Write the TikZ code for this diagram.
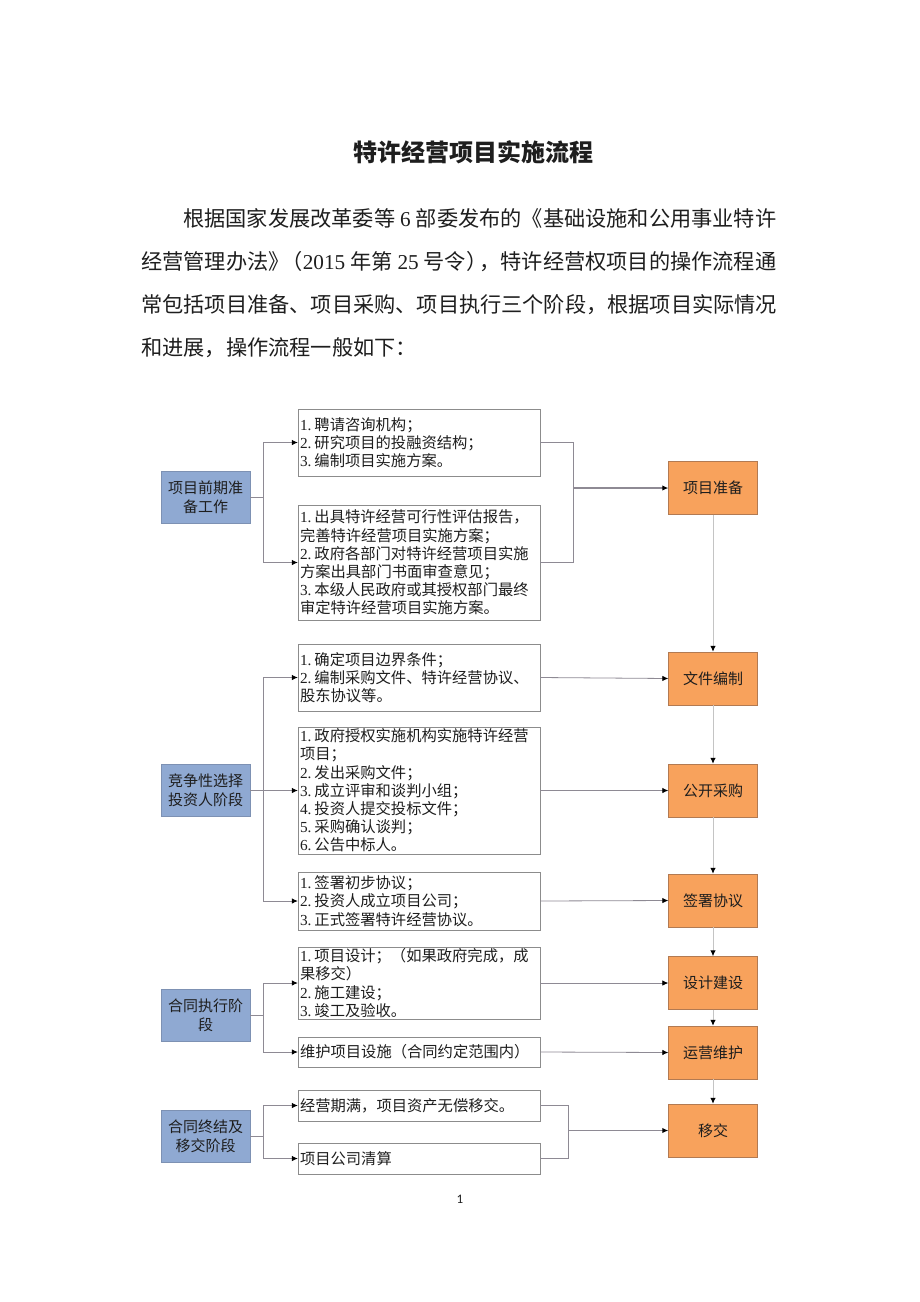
\documentclass[tikz,border=0pt]{standalone}
\usepackage{fontspec}
\setmainfont{Noto Sans CJK SC}
\newfontfamily\lat{Liberation Serif}
\newfontfamily\pnum{Carlito}
\usetikzlibrary{arrows.meta}
\definecolor{bluefill}{HTML}{8FA9D2}
\definecolor{bluedraw}{HTML}{7D91B3}
\definecolor{orangefill}{HTML}{F8A25C}
\definecolor{orangedraw}{HTML}{B27A52}
\definecolor{boxgray}{HTML}{8C8C8C}
\definecolor{linegray}{HTML}{8E8A94}
\definecolor{chaingray}{HTML}{C4C4C4}
\definecolor{ink}{HTML}{1E1E1E}
\newcommand\nm[1]{{\lat #1}\kern3pt}
\newcommand\dgap{\hspace{5pt}}
\newcommand\plinefill[2]{{\XeTeXlinebreaklocale "zh"\XeTeXlinebreakskip=0pt plus 2pt minus 0.5pt\makebox[#1][s]{#2}}}
\tikzset{
  phasebox/.style={draw=bluedraw, fill=bluefill, minimum width=89pt, minimum height=52pt,
    inner sep=0pt, align=center, text=ink, font=\fontsize{15}{18.6}\selectfont},
  resultbox/.style={draw=orangedraw, fill=orangefill, minimum width=89pt, minimum height=53pt,
    inner sep=0pt, align=center, text=ink, font=\fontsize{15}{18.6}\selectfont},
  stepitem/.style={draw=boxgray, fill=white, text width=238pt, inner xsep=2pt, inner ysep=0pt,
    align=left, text=ink, font=\fontsize{15.3}{18.2}\selectfont},
  paraline/.style={anchor=west, inner sep=0pt, text=ink, font=\fontsize{21.2}{25}\selectfont},
  conn/.style={draw=linegray, line width=0.8pt},
  arr/.style={conn, -{Latex[length=6pt,width=5.5pt,color=black]}},
  merge/.style={draw=linegray, line width=1.6pt},
  mergearr/.style={merge, -{Latex[length=6pt,width=5.5pt,color=black]}},
  chain/.style={draw=chaingray, line width=1pt, -{Latex[length=6pt,width=5.5pt,color=black]}},
}
\begin{document}
\begin{tikzpicture}[x=1pt, y=-1pt]
\useasboundingbox (0,0) rectangle (920,1302);
\fill[white] (0,0) rectangle (920,1302);

% title and paragraph
\node[inner sep=0pt, text=ink, font=\fontsize{24}{28}\selectfont\bfseries] (title) at (473,152) {特许经营项目实施流程};
\node[paraline] (p1) at (183,218) {\plinefill{596pt}{根据国家发展改革委等\dgap{\lat 6}\dgap 部委发布的《基础设施和公用事业特许}};
\node[paraline] (p2) at (141,262) {\plinefill{638pt}{经营管理办法》\kern-8pt（{\lat 2015}\dgap 年第\dgap{\lat 25}\dgap 号令）\kern-8pt，特许经营权项目的操作流程通}};
\node[paraline] (p3) at (141,305) {\plinefill{638pt}{常包括项目准备、项目采购、项目执行三个阶段，根据项目实际情况}};
\node[paraline] (p4) at (141,348) {和进展，操作流程一般如下：};

% phase boxes (left)
\node[phasebox] (b1) at (205.5,497) {项目前期准\\备工作};
\node[phasebox] (b2) at (205.5,790.5) {竞争性选择\\投资人阶段};
\node[phasebox] (b3) at (205.5,1015) {合同执行阶\\段};
\node[phasebox] (b4) at (205.5,1136) {合同终结及\\移交阶段};

% step boxes (middle)
\node[stepitem, minimum height=67pt] (m1) at (419,442.5) {\nm{1.}聘请咨询机构；\\\nm{2.}研究项目的投融资结构；\\\nm{3.}编制项目实施方案。};
\node[stepitem, minimum height=115pt] (m2) at (419,562.5) {\nm{1.}出具特许经营可行性评估报告，\\完善特许经营项目实施方案；\\\nm{2.}政府各部门对特许经营项目实施\\方案出具部门书面审查意见；\\\nm{3.}本级人民政府或其授权部门最终\\审定特许经营项目实施方案。};
\node[stepitem, minimum height=67pt] (m3) at (419,677.5) {\nm{1.}确定项目边界条件；\\\nm{2.}编制采购文件、特许经营协议、\\股东协议等。};
\node[stepitem, minimum height=127pt] (m4) at (419,790.5) {\nm{1.}政府授权实施机构实施特许经营\\项目；\\\nm{2.}发出采购文件；\\\nm{3.}成立评审和谈判小组；\\\nm{4.}投资人提交投标文件；\\\nm{5.}采购确认谈判；\\\nm{6.}公告中标人。};
\node[stepitem, minimum height=58pt] (m5) at (419,901) {\nm{1.}签署初步协议；\\\nm{2.}投资人成立项目公司；\\\nm{3.}正式签署特许经营协议。};
\node[stepitem, minimum height=72pt] (m6) at (419,983) {\nm{1.}项目设计；（如果政府完成，成\\果移交）\\\nm{2.}施工建设；\\\nm{3.}竣工及验收。};
\node[stepitem, minimum height=30pt] (m7) at (419,1052) {维护项目设施（合同约定范围内）};
\node[stepitem, minimum height=31pt] (m8) at (419,1105.5) {经营期满，项目资产无偿移交。};
\node[stepitem, minimum height=31pt] (m9) at (419,1158.5) {项目公司清算};

% result boxes (right)
\node[resultbox] (o1) at (713,488) {项目准备};
\node[resultbox] (o2) at (713,678.5) {文件编制};
\node[resultbox] (o3) at (713,790.5) {公开采购};
\node[resultbox] (o4) at (713,900.5) {签署协议};
\node[resultbox] (o5) at (713,983) {设计建设};
\node[resultbox] (o6) at (713,1052.5) {运营维护};
\node[resultbox] (o7) at (713,1130.5) {移交};

% junctions
\coordinate (j1) at (263,497);
\coordinate (j2) at (263,790.5);
\coordinate (j3) at (263,1015);
\coordinate (j4) at (263,1136);
\coordinate (k1) at (573,488);
\coordinate (k2) at (568,1130.5);

% left branches
\draw[conn] (b1.east) -- (j1);
\draw[arr] (j1) |- (m1.west);
\draw[arr] (j1) |- (m2.west);
\draw[conn] (b2.east) -- (j2);
\draw[arr] (j2) |- (m3.west);
\draw[arr] (j2) -- (m4.west);
\draw[arr] (j2) |- (m5.west);
\draw[conn] (b3.east) -- (j3);
\draw[arr] (j3) |- (m6.west);
\draw[arr] (j3) |- (m7.west);
\draw[conn] (b4.east) -- (j4);
\draw[arr] (j4) |- (m8.west);
\draw[arr] (j4) |- (m9.west);

% right side
\draw[conn] (m1.east) -| (k1);
\draw[conn] (m2.east) -| (k1);
\draw[mergearr] (k1) -- (o1.west);
\draw[arr] (m3.east) -- (o2.west);
\draw[arr] (m4.east) -- (o3.west);
\draw[arr] (m5.east) -- (o4.west);
\draw[arr] (m6.east) -- (o5.west);
\draw[arr] (m7.east) -- (o6.west);
\draw[conn] (m8.east) -| (k2);
\draw[conn] (m9.east) -| (k2);
\draw[mergearr] (k2) -- (o7.west);

% chain of results
\draw[chain] (o1.south) -- (o2.north);
\draw[chain] (o2.south) -- (o3.north);
\draw[chain] (o3.south) -- (o4.north);
\draw[chain] (o4.south) -- (o5.north);
\draw[chain] (o5.south) -- (o6.north);
\draw[chain] (o6.south) -- (o7.north);

% page number
\node[inner sep=0pt, text=ink, font=\pnum\fontsize{13}{15}\selectfont] (pg) at (460,1199) {1};
\end{tikzpicture}
\end{document}
